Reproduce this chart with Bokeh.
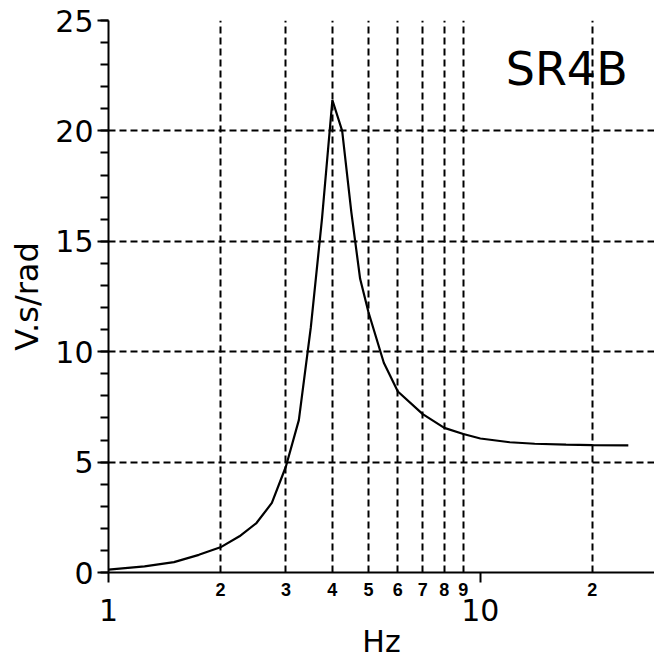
from bokeh.plotting import figure
from bokeh.models import FixedTicker, Label, Range1d, LogAxis
from bokeh.embed import file_html
from bokeh.resources import INLINE

# ---- data ----
freq_hz = [1, 1.25, 1.5, 1.75, 2, 2.25, 2.5, 2.75, 3, 3.25, 3.5, 3.75, 4, 4.25,
           4.5, 4.75, 5, 5.5, 6, 7, 8, 9, 10, 12, 14, 17, 20, 25]
sens_vs_rad = [0.13, 0.28, 0.47, 0.80, 1.14, 1.64, 2.24, 3.15, 4.8, 6.9, 11.1, 16.0, 21.4, 20.0,
               16.3, 13.3, 11.8, 9.5, 8.2, 7.17, 6.55, 6.27, 6.07, 5.9, 5.83, 5.79, 5.77, 5.76]

y_major_ticks = [0, 5, 10, 15, 20, 25]
y_minor_ticks = list(range(0, 26))
y_grid_ticks = [5, 10, 15, 20, 25]
x_major_ticks = [1, 10]
x_major_labels = ["1", "10"]
x_minor_ticks = [2, 3, 4, 5, 6, 7, 8, 9, 20, 30]
x_minor_labels = ["2", "3", "4", "5", "6", "7", "8", "9", "2", "3"]
curve_name = "SR4B"
x_title = "Hz"
y_title = "V.s/rad"

FONT = "DejaVu Sans"

p = figure(width=654, height=661, x_axis_type="log",
           x_range=Range1d(1, 29.4), y_range=Range1d(0, 25),
           output_backend="svg", toolbar_location=None,
           min_border_left=108, min_border_right=0,
           min_border_top=20, min_border_bottom=87)
p.outline_line_color = None
p.background_fill_color = "white"
p.border_fill_color = "white"

# grids
p.xgrid.ticker = FixedTicker(ticks=x_minor_ticks)
p.ygrid.ticker = FixedTicker(ticks=y_grid_ticks)
for g in (p.xgrid, p.ygrid):
    g.grid_line_color = "black"
    g.grid_line_width = 2
    g.grid_line_dash = "7 4"

# y axis
ya = p.yaxis[0]
ya.ticker = FixedTicker(ticks=y_major_ticks, minor_ticks=y_minor_ticks)
ya.axis_line_color = "black"
ya.axis_line_width = 2
ya.major_tick_line_width = 2
ya.minor_tick_line_width = 2
ya.major_tick_line_color = "black"
ya.minor_tick_line_color = "black"
ya.major_tick_out = 11
ya.major_tick_in = 0
ya.minor_tick_out = 8
ya.minor_tick_in = 0
ya.major_label_text_font = FONT
ya.major_label_text_font_size = "30px"
ya.major_label_text_color = "black"
ya.major_label_standoff = 4
ya.axis_label = y_title
ya.axis_label_text_font = FONT
ya.axis_label_text_font_size = "32px"
ya.axis_label_text_font_style = "normal"
ya.axis_label_text_color = "black"
ya.axis_label_standoff = 6

# x axis (inner): small sub-decade labels, ticks at the decades
xa = p.xaxis[0]
xa.ticker = FixedTicker(ticks=x_minor_ticks, minor_ticks=x_major_ticks)
xa.major_label_overrides = {t: s for t, s in zip(x_minor_ticks, x_minor_labels)}
xa.axis_line_color = "black"
xa.axis_line_width = 2
xa.major_tick_out = 0
xa.major_tick_in = 0
xa.major_tick_line_color = None
xa.minor_tick_line_color = "black"
xa.minor_tick_line_width = 2
xa.minor_tick_out = 10
xa.minor_tick_in = 0
xa.major_label_text_font = "Liberation Sans"
xa.major_label_text_font_style = "bold"
xa.major_label_text_font_size = "18px"
xa.major_label_text_color = "black"
xa.major_label_standoff = 0

# x axis (outer): decade labels and title
xb = LogAxis(ticker=FixedTicker(ticks=x_major_ticks, minor_ticks=[]))
xb.major_label_overrides = {t: s for t, s in zip(x_major_ticks, x_major_labels)}
xb.axis_line_color = None
xb.major_tick_line_color = None
xb.minor_tick_line_color = None
xb.major_tick_out = 0
xb.major_tick_in = 0
xb.minor_tick_out = 0
xb.minor_tick_in = 0
xb.major_label_text_font = FONT
xb.major_label_text_font_size = "30px"
xb.major_label_text_color = "black"
xb.major_label_standoff = 0
xb.axis_label = x_title
xb.axis_label_text_font = FONT
xb.axis_label_text_font_size = "30px"
xb.axis_label_text_font_style = "normal"
xb.axis_label_text_color = "black"
xb.axis_label_standoff = 0
p.add_layout(xb, "below")

# curve
p.line(freq_hz, sens_vs_rad, line_color="black", line_width=2.2)

# curve name
p.add_layout(Label(x=11.7, y=22.8, text=curve_name, text_align="left",
                   text_baseline="alphabetic", text_font=FONT,
                   text_font_size="46px", text_color="black"))

open("out.html", "w").write(file_html(p, INLINE))
